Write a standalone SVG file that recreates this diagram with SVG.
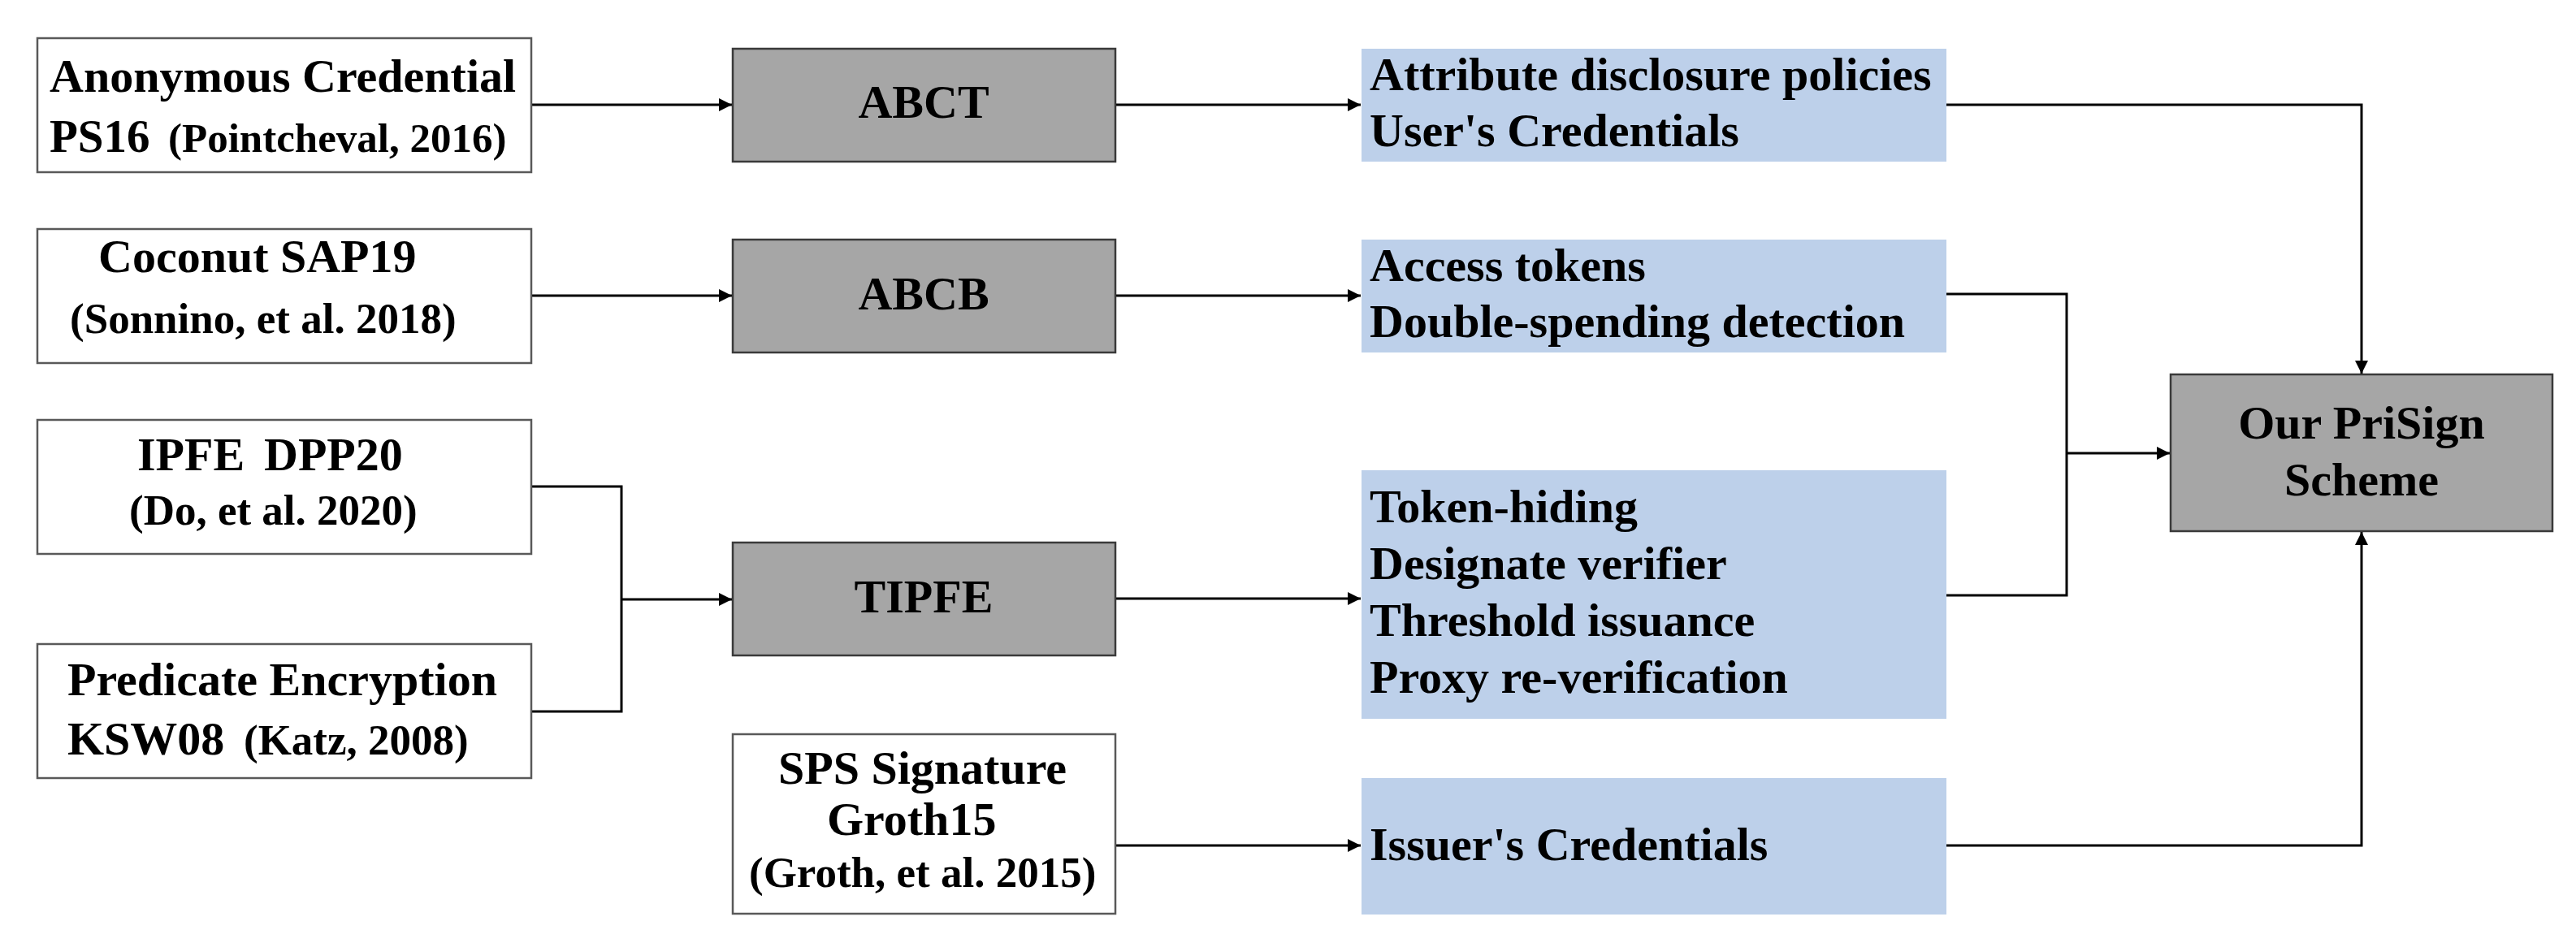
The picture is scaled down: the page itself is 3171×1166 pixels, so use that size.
<svg xmlns="http://www.w3.org/2000/svg" width="3171" height="1166" viewBox="0 0 3171 1166">
<style>
text{font-family:"Liberation Serif","Times New Roman",serif;font-weight:bold;fill:#000;font-size:58px}
.src{fill:#fff;stroke:#595959;stroke-width:2.5}
.mid{fill:#a6a6a6;stroke:#3a3a3a;stroke-width:2.5}
.out{fill:#bdd0ea;stroke:none}
.small{font-size:53px}
.c{text-anchor:middle}
.wire{fill:none;stroke:#000;stroke-width:3}
</style>
<defs>
<marker id="ah" viewBox="0 0 10 10" refX="10" refY="5" markerWidth="16" markerHeight="16" markerUnits="userSpaceOnUse" orient="auto">
<path d="M0,0 L10,5 L0,10 z" fill="#000"/>
</marker>
</defs>
<rect width="3171" height="1166" fill="#fff"/>

<g id="connectors">
<path class="wire" d="M654,129 H901" marker-end="url(#ah)"/>
<path class="wire" d="M654,364 H901" marker-end="url(#ah)"/>
<path class="wire" d="M654,599 H765 V876 H654"/>
<path class="wire" d="M765,738 H901" marker-end="url(#ah)"/>
<path class="wire" d="M1373,129 H1675" marker-end="url(#ah)"/>
<path class="wire" d="M1373,364 H1675" marker-end="url(#ah)"/>
<path class="wire" d="M1373,737 H1675" marker-end="url(#ah)"/>
<path class="wire" d="M1373,1041 H1675" marker-end="url(#ah)"/>
<path class="wire" d="M2396,129 H2907 V460" marker-end="url(#ah)"/>
<path class="wire" d="M2396,362 H2544 V733 H2396"/>
<path class="wire" d="M2544,558 H2671" marker-end="url(#ah)"/>
<path class="wire" d="M2396,1041 H2907 V655" marker-end="url(#ah)"/>
</g>

<g id="anon-cred">
<rect class="src" x="46" y="47" width="608" height="165"/>
<text x="61" y="113">Anonymous Credential</text>
<text y="187"><tspan x="61" font-size="57">PS16</tspan><tspan x="207" font-size="51">(Pointcheval, 2016)</tspan></text>
</g>

<g id="coconut">
<rect class="src" x="46" y="282" width="608" height="165"/>
<text x="121" y="335">Coconut SAP19</text>
<text class="small" x="86" y="410" font-size="54">(Sonnino, et al. 2018)</text>
</g>

<g id="ipfe">
<rect class="src" x="46" y="517" width="608" height="165"/>
<text y="579"><tspan x="169">IPFE</tspan><tspan x="325">DPP20</tspan></text>
<text class="small" x="159" y="646">(Do, et al. 2020)</text>
</g>

<g id="predicate">
<rect class="src" x="46" y="793" width="608" height="165"/>
<text x="83" y="856">Predicate Encryption</text>
<text y="929"><tspan x="83">KSW08</tspan><tspan x="300" font-size="53">(Katz, 2008)</tspan></text>
</g>

<g id="sps">
<rect class="src" x="902" y="904" width="471" height="221"/>
<text x="958" y="965">SPS Signature</text>
<text x="1018" y="1028">Groth15</text>
<text class="small" x="922" y="1092">(Groth, et al. 2015)</text>
</g>

<g id="abct">
<rect class="mid" x="902" y="60" width="471" height="139"/>
<text class="c" x="1137" y="145">ABCT</text>
</g>

<g id="abcb">
<rect class="mid" x="902" y="295" width="471" height="139"/>
<text class="c" x="1137" y="381">ABCB</text>
</g>

<g id="tipfe">
<rect class="mid" x="902" y="668" width="471" height="139"/>
<text class="c" x="1137" y="754">TIPFE</text>
</g>

<g id="out-abct">
<rect class="out" x="1676" y="60" width="720" height="139"/>
<text x="1686" y="111">Attribute disclosure policies</text>
<text x="1686" y="180">User's Credentials</text>
</g>

<g id="out-abcb">
<rect class="out" x="1676" y="295" width="720" height="139"/>
<text x="1686" y="346">Access tokens</text>
<text x="1686" y="415">Double-spending detection</text>
</g>

<g id="out-tipfe">
<rect class="out" x="1676" y="579" width="720" height="306"/>
<text x="1686" y="643">Token-hiding</text>
<text x="1686" y="713">Designate verifier</text>
<text x="1686" y="783">Threshold issuance</text>
<text x="1686" y="853">Proxy re-verification</text>
</g>

<g id="out-sps">
<rect class="out" x="1676" y="958" width="720" height="168"/>
<text x="1686" y="1059">Issuer's Credentials</text>
</g>

<g id="prisign">
<rect class="mid" x="2672" y="461" width="470" height="193"/>
<text class="c" x="2907" y="540" font-size="57">Our PriSign</text>
<text class="c" x="2907" y="610" font-size="57">Scheme</text>
</g>
</svg>
